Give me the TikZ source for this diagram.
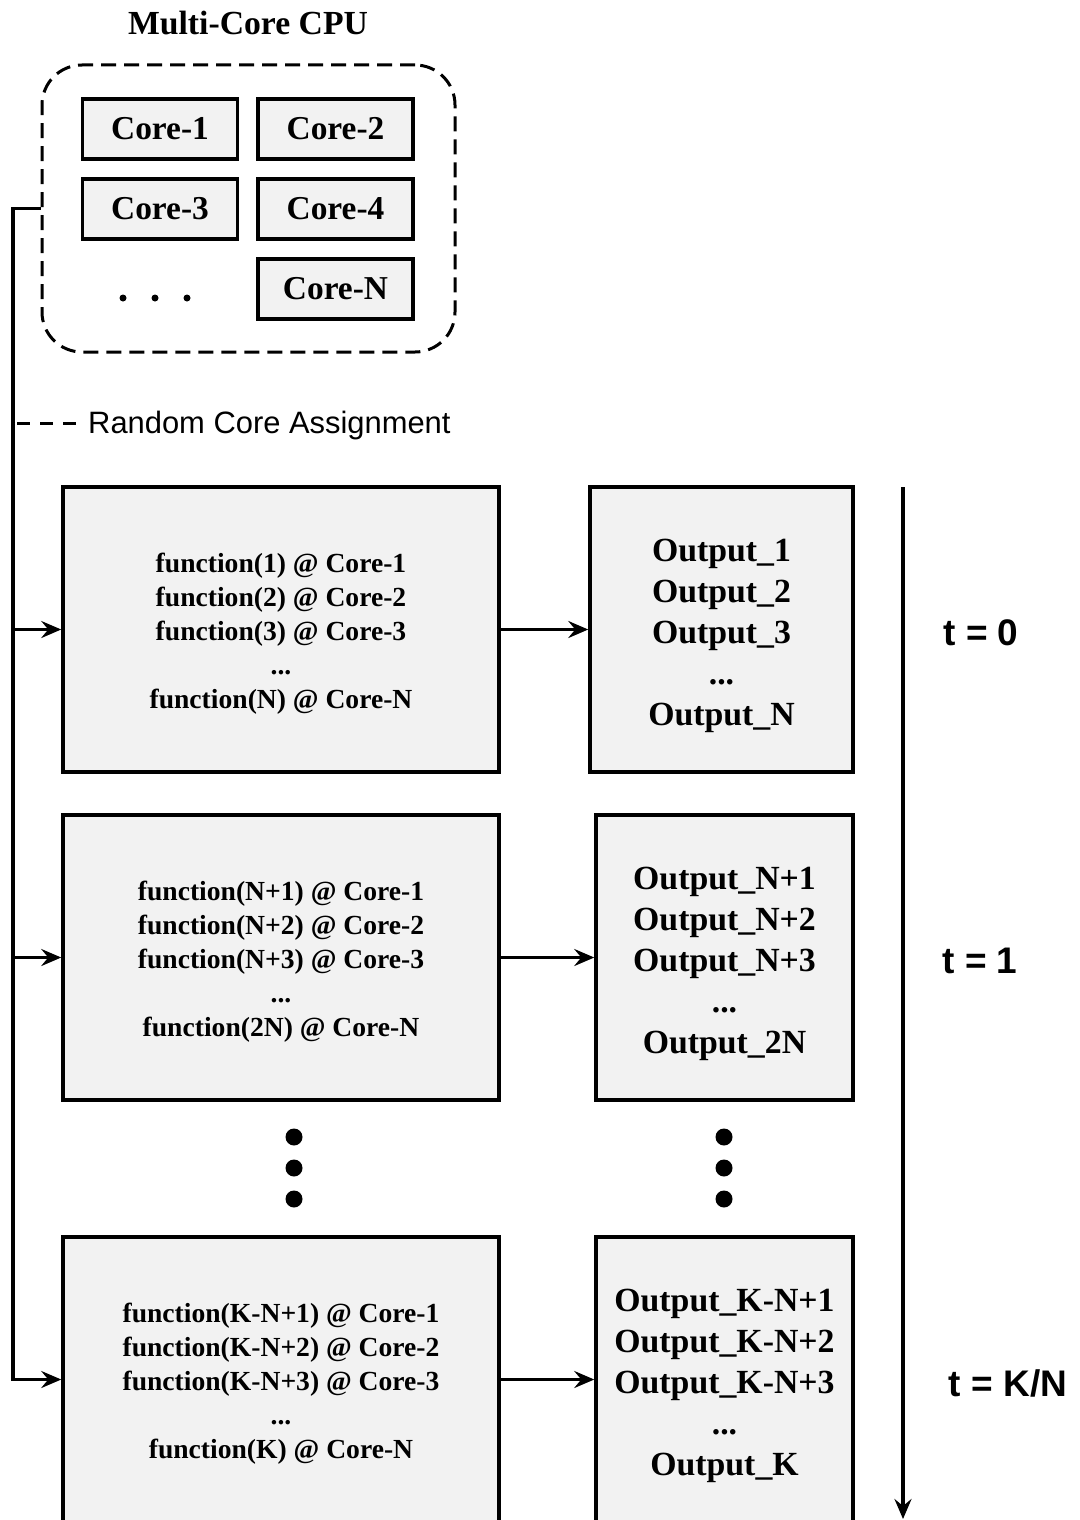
\documentclass[tikz,border=0pt]{standalone}
\usepackage{fontspec}
\setmainfont{Liberation Serif}
\newfontfamily\arialfont{Liberation Sans}
\usetikzlibrary{arrows.meta}
\definecolor{boxfill}{HTML}{F2F2F2}
\tikzset{
  corebox/.style={draw, line width=3.5pt, fill=boxfill, minimum width=155pt, minimum height=60pt, inner sep=0pt,
    font=\fontsize{33.4}{38}\selectfont\bfseries},
  funcbox/.style={draw, line width=3.5pt, fill=boxfill, minimum width=436pt, minimum height=285pt, inner sep=0pt},
  functext/.style={align=center, inner sep=0pt, font=\fontsize{27.6}{34}\selectfont\bfseries},
  outbox/.style={draw, line width=3.5pt, fill=boxfill, minimum height=285pt, inner sep=0pt},
  outtext/.style={align=center, inner sep=0pt, font=\fontsize{33.8}{41}\selectfont\bfseries},
  arr/.style={line width=3.5pt, -{Stealth[length=20pt,width=17pt,inset=7pt]}},
  tlabel/.style={font=\fontsize{37}{42}\selectfont\arialfont\bfseries, inner sep=0pt},
  bigdot/.style={circle, fill=black, minimum size=17pt, inner sep=0pt},
  smalldot/.style={circle, fill=black, minimum size=7pt, inner sep=0pt},
}
\begin{document}
\begin{tikzpicture}[x=1pt,y=-1pt]
\clip (0,0) rectangle (1079,1520);
\fill[white] (0,0) rectangle (1079,1520);

% CPU
\node[font=\fontsize{33.7}{38}\selectfont\bfseries] (title) at (248,23) {Multi-Core CPU};
\node[draw, dash pattern=on 15pt off 8pt, line width=3pt, rounded corners=40pt,
  minimum width=413pt, minimum height=287pt, inner sep=0pt] (cpu) at (248.5,208.5) {};
\node[corebox] (c1) at (160,129) {Core-1};
\node[corebox] (c2) at (335.5,129) {Core-2};
\node[corebox] (c3) at (160,209) {Core-3};
\node[corebox] (c4) at (335.5,209) {Core-4};
\node[corebox] (cn) at (335.5,289) {Core-N};
\node[smalldot] (cd1) at (123,298) {};
\node[smalldot] (cd2) at (155,298) {};
\node[smalldot] (cd3) at (187,298) {};

% legend
\coordinate (legA) at (17,423);
\coordinate (legB) at (78,423);
\node[anchor=west, inner sep=0pt, font=\fontsize{30.9}{36}\selectfont\arialfont] (leg) at (88,426) {Random Core Assignment};
\draw[line width=3pt, dash pattern=on 13pt off 10pt] (legA) -- (legB);

% function boxes
\node[funcbox] (f1) at (281,629.5) {};
\node[funcbox] (f2) at (281,957.5) {};
\node[funcbox] (f3) at (281,1379.5) {};
\node[functext, yshift=-4pt] (f1t) at (f1.center) {function(1) @ Core-1\\function(2) @ Core-2\\function(3) @ Core-3\\...\\function(N) @ Core-N};
\node[functext, yshift=-4pt] (f2t) at (f2.center) {function(N+1) @ Core-1\\function(N+2) @ Core-2\\function(N+3) @ Core-3\\...\\function(2N) @ Core-N};
\node[functext, yshift=-4pt] (f3t) at (f3.center) {function(K-N+1) @ Core-1\\function(K-N+2) @ Core-2\\function(K-N+3) @ Core-3\\...\\function(K) @ Core-N};

% output boxes
\node[outbox, minimum width=263pt] (o1) at (721.5,629.5) {};
\node[outbox, minimum width=257pt] (o2) at (724.5,957.5) {};
\node[outbox, minimum width=257pt] (o3) at (724.5,1379.5) {};
\node[outtext, yshift=-6pt] (o1t) at (o1.center) {Output\_1\\Output\_2\\Output\_3\\...\\Output\_N};
\node[outtext, yshift=-6pt] (o2t) at (o2.center) {Output\_N+1\\Output\_N+2\\Output\_N+3\\...\\Output\_2N};
\node[outtext, yshift=-6pt] (o3t) at (o3.center) {Output\_K-N+1\\Output\_K-N+2\\Output\_K-N+3\\...\\Output\_K};

% vertical dots
\node[bigdot] (d1) at (294,1137) {};
\node[bigdot] (d2) at (294,1168) {};
\node[bigdot] (d3) at (294,1199) {};
\node[bigdot] (e1) at (724,1137) {};
\node[bigdot] (e2) at (724,1168) {};
\node[bigdot] (e3) at (724,1199) {};

% bus
\coordinate (bend) at (13,208.5);
\draw[arr] (cpu.west) -- (bend) |- (f3.west);
\draw[arr] (f1.west -| bend) -- (f1.west);
\draw[arr] (f2.west -| bend) -- (f2.west);

% function -> output
\draw[arr] (f1.east) -- (o1.west);
\draw[arr] (f2.east) -- (o2.west);
\draw[arr] (f3.east) -- (o3.west);

% time axis
\coordinate (tA) at (903,487);
\coordinate (tB) at (903,1519);
\draw[arr] (tA) -- (tB);
\node[tlabel] (t0) at (981,633) {t = 0};
\node[tlabel] (t1) at (980,961) {t = 1};
\node[tlabel] (tk) at (1008,1383) {t = K/N};
\end{tikzpicture}
\end{document}
